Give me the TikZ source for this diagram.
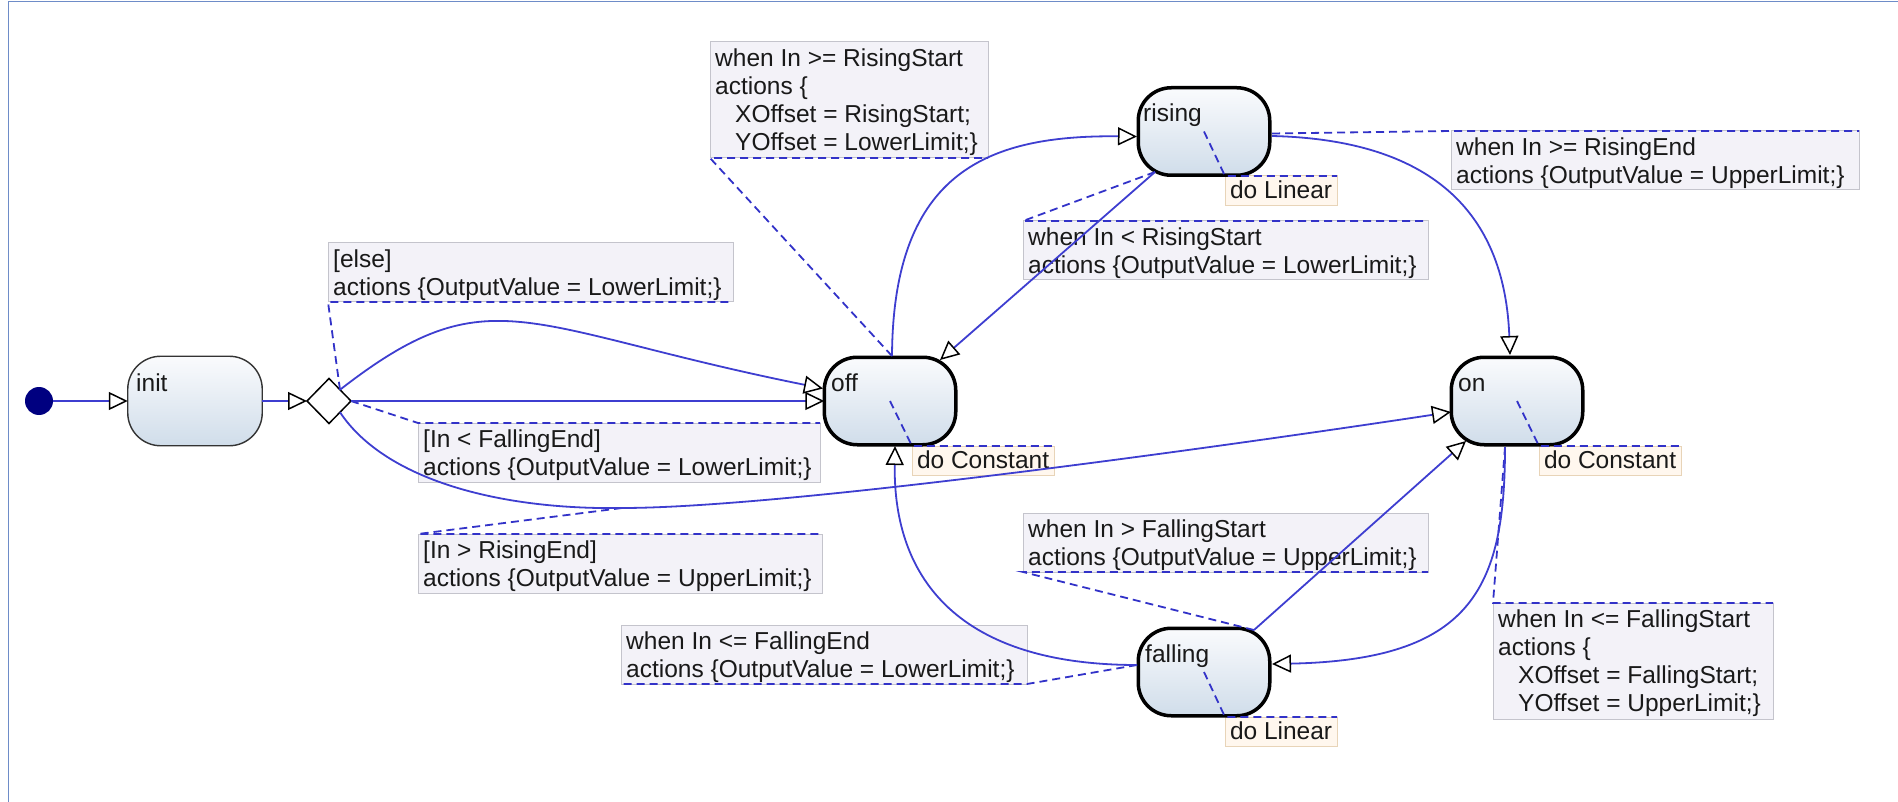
\documentclass[tikz,border=0pt]{standalone}
\usepackage{fontspec}
\setmainfont{Liberation Sans}
\usetikzlibrary{arrows.meta,shapes.geometric}

\definecolor{lineblue}{RGB}{62,62,208}
\definecolor{linkblue}{RGB}{50,50,200}
\definecolor{notefill}{RGB}{243,242,248}
\definecolor{noteedge}{RGB}{196,196,204}
\definecolor{dofill}{RGB}{255,247,238}
\definecolor{doedge}{RGB}{232,212,184}
\definecolor{sttop}{RGB}{250,251,253}
\definecolor{stbot}{RGB}{208,221,234}
\definecolor{framecol}{RGB}{110,140,200}
\definecolor{initdot}{RGB}{0,0,128}
\definecolor{txt}{RGB}{25,25,25}

\newcommand{\labfont}{\fontsize{24.5pt}{28.2pt}\selectfont}
\newcommand{\nstrut}{\rule{0pt}{22pt}}
\newcommand{\ind}{\hspace*{20pt}}

\tikzset{
  note/.style={draw=noteedge, line width=1pt, fill=notefill, inner sep=0pt,
    outer sep=0pt, anchor=north west},
  notetxt/.style={anchor=north west, inner sep=0pt, align=left},
  dobox/.style={draw=doedge, line width=1pt, fill=dofill, anchor=north west,
    inner xsep=5pt, inner ysep=2.5pt, text height=20pt, text depth=4.5pt,
    outer sep=0pt},
  state/.style={rectangle, rounded corners=33pt, draw=black, line width=3.5pt,
    top color=sttop, bottom color=stbot, minimum width=131.5pt,
    minimum height=87.5pt, inner sep=0pt, outer sep=0pt},
  simplestate/.style={state, line width=1.4pt, draw=black!80,
    minimum width=134.5pt, minimum height=89.5pt},
  stname/.style={anchor=base west, inner sep=0pt},
  trans/.style={draw=lineblue, line width=1.8pt,
    -{Triangle[length=19pt, width=18pt, color=black, fill=white, line width=1.5pt]}},
  link/.style={draw=linkblue, line width=1.8pt, dash pattern=on 8pt off 5pt},
}

\begin{document}
\begin{tikzpicture}[x=1pt, y=-1pt, font=\labfont, text=txt]
\useasboundingbox (0,0) rectangle (1898,802);

% window frame
\draw[framecol, line width=1.5pt] (8.5,802) -- (8.5,1.5) -- (1898,1.5);

% transition notes
\node[note, minimum width=278pt, minimum height=116pt] (n1) at (710,42) {};
\node[notetxt] (n1t) at ([shift={(5,2)}]n1.north west)
  {\nstrut when In >= RisingStart\\actions \{\\\ind XOffset = RisingStart;\\\ind YOffset = LowerLimit;\}};

\node[note, minimum width=405pt, minimum height=59pt] (n2) at (328,243) {};
\node[notetxt] (n2t) at ([shift={(5,2)}]n2.north west)
  {\nstrut [else]\\actions \{OutputValue = LowerLimit;\}};

\node[note, minimum width=402pt, minimum height=59pt] (n3) at (418,423) {};
\node[notetxt] (n3t) at ([shift={(5,2)}]n3.north west)
  {\nstrut [In < FallingEnd]\\actions \{OutputValue = LowerLimit;\}};

\node[note, minimum width=404pt, minimum height=59pt] (n4) at (418,534) {};
\node[notetxt] (n4t) at ([shift={(5,2)}]n4.north west)
  {\nstrut [In > RisingEnd]\\actions \{OutputValue = UpperLimit;\}};

\node[note, minimum width=405pt, minimum height=59pt] (n5) at (1023,221) {};
\node[notetxt] (n5t) at ([shift={(5,2)}]n5.north west)
  {\nstrut when In < RisingStart\\actions \{OutputValue = LowerLimit;\}};

\node[note, minimum width=408pt, minimum height=59pt] (n6) at (1451,131) {};
\node[notetxt] (n6t) at ([shift={(5,2)}]n6.north west)
  {\nstrut when In >= RisingEnd\\actions \{OutputValue = UpperLimit;\}};

\node[note, minimum width=405pt, minimum height=59pt] (n7) at (1023,513) {};
\node[notetxt] (n7t) at ([shift={(5,2)}]n7.north west)
  {\nstrut when In > FallingStart\\actions \{OutputValue = UpperLimit;\}};

\node[note, minimum width=406pt, minimum height=59pt] (n8) at (621,625) {};
\node[notetxt] (n8t) at ([shift={(5,2)}]n8.north west)
  {\nstrut when In <= FallingEnd\\actions \{OutputValue = LowerLimit;\}};

\node[note, minimum width=280pt, minimum height=116pt] (n9) at (1493,603) {};
\node[notetxt] (n9t) at ([shift={(5,2)}]n9.north west)
  {\nstrut when In <= FallingStart\\actions \{\\\ind XOffset = FallingStart;\\\ind YOffset = UpperLimit;\}};

% do-activity labels
\node[dobox] (dr) at (1225,176) {do Linear};
\node[dobox] (doff) at (912,446) {do Constant};
\node[dobox] (don) at (1539,446) {do Constant};
\node[dobox] (df) at (1225,717) {do Linear};

% states
\node[circle, fill=initdot, minimum size=28pt, inner sep=0pt, outer sep=0pt] (start) at (39,401) {};
\node[simplestate] (init) at (195,401) {};
\node[diamond, draw=black, fill=white, line width=1.5pt, minimum width=44pt,
  minimum height=45pt, inner sep=0pt, outer sep=0pt] (dec) at (329,401) {};
\node[state] (off) at (890,401) {};
\node[state] (on) at (1517,401) {};
\node[state] (rising) at (1204,131.5) {};
\node[state] (falling) at (1204,672) {};

\node[stname] (init-n) at ([shift={(-59,-9.5)}]init.center) {init};
\node[stname] (off-n) at ([shift={(-59,-9.5)}]off.center) {off};
\node[stname] (on-n) at ([shift={(-59,-9.5)}]on.center) {on};
\node[stname] (rising-n) at ([shift={(-61,-9.5)}]rising.center) {rising};
\node[stname] (falling-n) at ([shift={(-59,-9.5)}]falling.center) {falling};

\coordinate (lowpt) at (622,508);

% dashed links to the notes
\draw[link] ([shift={(2,-45)}]off.center) -- (n1.south west) -- (n1.south east);
\draw[link] (dec.north east) -- (n2.south west) -- (n2.south east);
\draw[link] (dec.east) -- (n3.north west) -- (n3.north east);
\draw[link] (lowpt) -- (n4.north west) -- (n4.north east);
\draw[link] ([shift={(-49,40.5)}]rising.center) -- (n5.north west) -- (n5.north east);
\draw[link] ([shift={(68,2)}]rising.center) -- (n6.north west) -- (n6.north east);
\draw[link] ([shift={(50,-42)}]falling.center) -- (n7.south west) -- (n7.south east);
\draw[link] ([shift={(-67,-7)}]falling.center) -- (n8.south east) -- (n8.south west);
\draw[link] ([shift={(-12,46)}]on.center) -- (n9.north west) -- (n9.north east);

% dashed links to the do-activities
\draw[link] (rising.center) -- (dr.north west) -- (dr.north east);
\draw[link] (off.center) -- (doff.north west) -- (doff.north east);
\draw[link] (on.center) -- (don.north west) -- (don.north east);
\draw[link] (falling.center) -- (df.north west) -- (df.north east);

% transitions
\draw[trans] (start) -- (init.west);
\draw[trans] (init.east) -- (dec.west);
\draw[trans] (dec.north east) .. controls (490,273) and (522,328) .. ([shift={(-67,-12.5)}]off.center);
\draw[trans] (dec.east) -- (off.west);
\draw[trans] (dec.south east) .. controls (385,480) and (500,510) .. (lowpt)
  .. controls (800,508) and (1300,435) .. ([shift={(-66,11)}]on.center);
\draw[trans] ([shift={(2,-45)}]off.center) .. controls (893,170) and (990,135) .. ([shift={(-67,5)}]rising.center);
\draw[trans] ([shift={(-49,40.5)}]rising.center) -- ([shift={(50,-41)}]off.center);
\draw[trans] ([shift={(68,4.5)}]rising.center) .. controls (1440,140) and (1505,220) .. ([shift={(-7,-46)}]on.center);
\draw[trans] ([shift={(-12,46)}]on.center) .. controls (1505,590) and (1470,660) .. ([shift={(68,-8)}]falling.center);
\draw[trans] ([shift={(50,-42)}]falling.center) -- ([shift={(-51,40)}]on.center);
\draw[trans] ([shift={(-67,-7)}]falling.center) .. controls (960,665) and (893,580) .. ([shift={(5,45)}]off.center);
\end{tikzpicture}
\end{document}
